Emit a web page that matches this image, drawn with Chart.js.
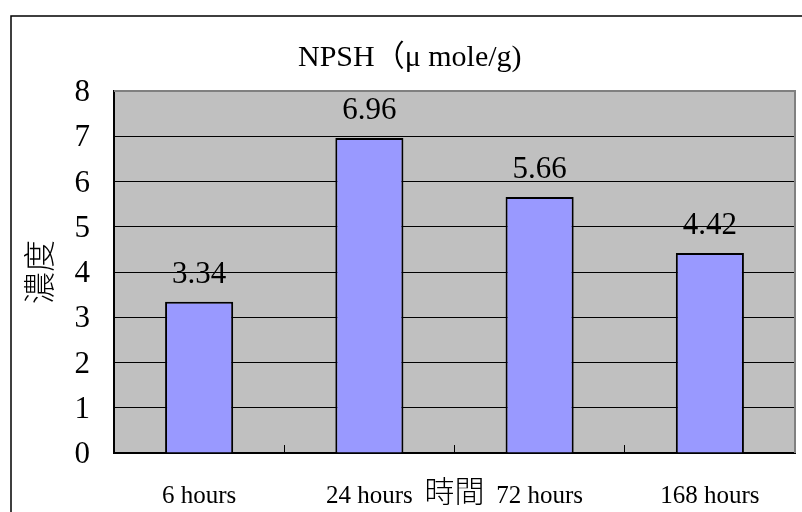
<!DOCTYPE html>
<html>
<head>
<meta charset="utf-8">
<title>NPSH</title>
<script src="https://cdn.jsdelivr.net/npm/chart.js@4/dist/chart.umd.min.js"></script>
<style>
  html, body { margin: 0; padding: 0; background: #ffffff; }
  #wrap { width: 802px; height: 512px; }
</style>
</head>
<body>
<div id="wrap"><canvas id="chart" width="802" height="512"></canvas></div>
<script>
// Sampling times and measured NPSH concentration (μmole/g)
const categories = ['6 hours', '24 hours', '72 hours', '168 hours'];
const npshValues = [3.34, 6.96, 5.66, 4.42];

// Value axis range
const yMin = 0;
const yMax = 8;
const yStep = 1;

const chartTitle = 'NPSH（μ mole/g)';
const xTitle = '時間';
const yTitle = '濃度';

const SERIF = "'Liberation Serif', 'Times New Roman', 'Noto Sans CJK TC', serif";
const CJK = "'Noto Sans CJK TC', 'Noto Sans CJK SC', sans-serif";

// Frame, grey plot background, title and value labels
const decorations = {
  id: 'decorations',
  beforeDraw(chart) {
    const { ctx, chartArea: a } = chart;
    ctx.save();
    ctx.fillStyle = '#ffffff';
    ctx.fillRect(0, 0, chart.width, chart.height);
    // outer chart frame
    ctx.strokeStyle = '#000000';
    ctx.lineWidth = 1.5;
    ctx.strokeRect(11, 16, 900, 600);
    // plot area
    ctx.fillStyle = '#c0c0c0';
    ctx.fillRect(a.left, a.top, a.right - a.left, a.bottom - a.top);
    ctx.restore();
  },
  afterDraw(chart) {
    const { ctx, chartArea: a } = chart;
    ctx.save();
    // plot area top / right edges
    ctx.strokeStyle = '#808080';
    ctx.lineWidth = 2;
    ctx.beginPath();
    ctx.moveTo(a.left, a.top);
    ctx.lineTo(a.right, a.top);
    ctx.lineTo(a.right, a.bottom);
    ctx.stroke();

    // chart title
    ctx.fillStyle = '#000000';
    ctx.font = '30px ' + SERIF;
    ctx.textAlign = 'left';
    ctx.textBaseline = 'alphabetic';
    ctx.fillText(chartTitle, 298, 66);

    // value labels above bars
    const meta = chart.getDatasetMeta(0);
    const values = chart.data.datasets[0].data;
    ctx.font = '31px ' + SERIF;
    ctx.textAlign = 'center';
    meta.data.forEach((bar, i) => {
      ctx.fillText(values[i].toFixed(2), bar.x, bar.y - 19);
    });
    ctx.restore();
  }
};

new Chart(document.getElementById('chart'), {
  type: 'bar',
  data: {
    labels: categories,
    datasets: [{
      data: npshValues,
      backgroundColor: '#9999ff',
      borderColor: '#000000',
      borderWidth: 2,
      barPercentage: 0.4,
      categoryPercentage: 1.0
    }]
  },
  options: {
    responsive: false,
    animation: false,
    devicePixelRatio: 1,
    layout: { padding: { left: 0, top: 91, right: 7, bottom: 0 } },
    plugins: {
      legend: { display: false },
      title: { display: false },
      tooltip: { enabled: false }
    },
    scales: {
      x: {
        type: 'category',
        offset: true,
        afterFit(scale) { scale.height = 59; },
        grid: {
          display: true,
          offset: true,
          drawOnChartArea: false,
          drawTicks: true,
          tickLength: -8,
          tickColor: '#000000',
          tickWidth: 1
        },
        border: { display: true, color: '#000000', width: 2 },
        ticks: {
          color: '#000000',
          font: { family: SERIF, size: 25 },
          padding: 36,
          maxRotation: 0,
          autoSkip: false
        },
        title: {
          display: true,
          text: xTitle,
          color: '#000000',
          font: { family: CJK, size: 30, weight: '300', lineHeight: 1.2 },
          padding: { top: 0, bottom: 3 }
        }
      },
      y: {
        min: yMin,
        max: yMax,
        afterFit(scale) { scale.width = 114; },
        grid: {
          drawTicks: false,
          lineWidth: 1,
          color: (c) => (c.tick && (c.tick.value === yMax || c.tick.value === yMin)) ? 'rgba(0,0,0,0)' : '#000000'
        },
        border: { display: true, color: '#000000', width: 2 },
        ticks: {
          stepSize: yStep,
          color: '#000000',
          font: { family: SERIF, size: 31 },
          padding: 24,
          labelOffset: 2
        },
        title: {
          display: true,
          text: yTitle,
          color: '#000000',
          font: { family: CJK, size: 32, weight: '300', lineHeight: 1.2 },
          padding: { top: 20, bottom: 0 }
        }
      }
    }
  },
  plugins: [decorations]
});
</script>
</body>
</html>
